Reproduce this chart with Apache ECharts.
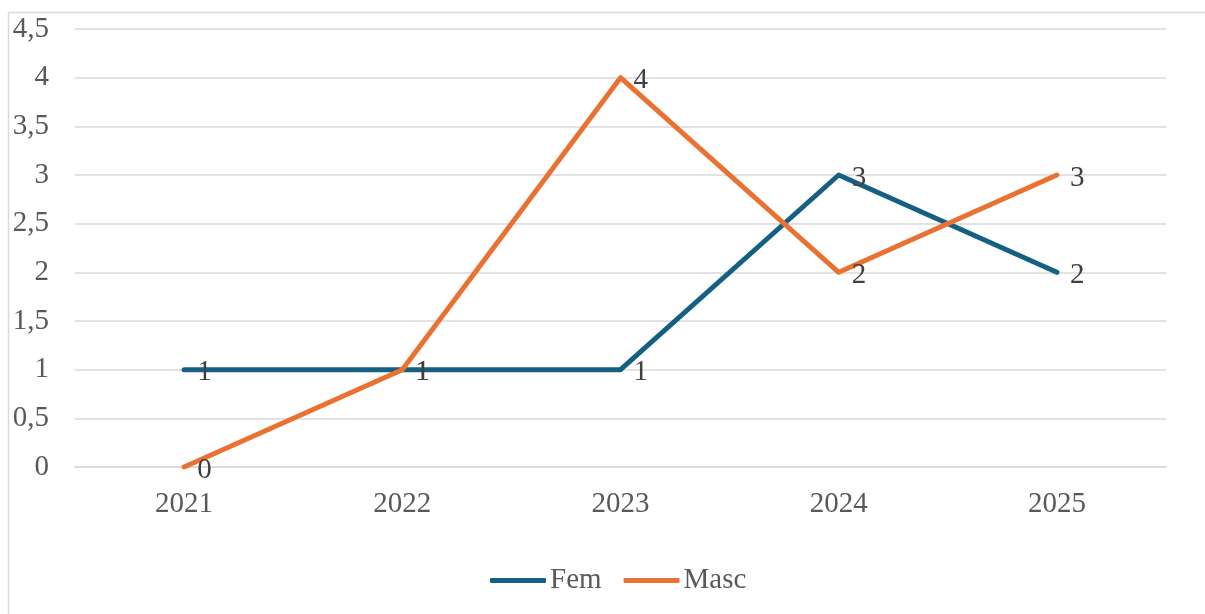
<!DOCTYPE html>
<html>
<head>
<meta charset="utf-8">
<script src="https://cdn.jsdelivr.net/npm/echarts@6/dist/echarts.min.js"></script>
<style>
  html, body { margin: 0; padding: 0; background: #fff; }
  #chart { width: 1205px; height: 614px; }
</style>
</head>
<body>
<div id="chart"></div>
<script>
var years = ['2021', '2022', '2023', '2024', '2025'];
var fem = [1, 1, 1, 3, 2];
var masc = [0, 1, 4, 2, 3];

var font = 'Liberation Serif';
var axisGray = '#595959';
var labelInk = '#404040';
var gridGray = '#d9d9d9';
var fs = 29;

var chart = echarts.init(document.getElementById('chart'), null, { renderer: 'canvas' });

function fmt(v) { return String(v).replace('.', ','); }

function dataLabel() {
  return {
    show: true, position: 'right', distance: 13, offset: [0, 3],
    color: labelInk, fontSize: fs, fontFamily: font,
    formatter: function (p) { return fmt(p.value); }
  };
}

chart.setOption({
  backgroundColor: '#fff',
  animation: false,
  textStyle: { fontFamily: font },
  graphic: [{
    type: 'rect',
    shape: { x: 8.5, y: 12.5, width: 1400, height: 800 },
    style: { fill: 'none', stroke: gridGray, lineWidth: 1.5 },
    silent: true
  }],
  grid: { left: 75, right: 39, top: 29, bottom: 147, containLabel: false },
  legend: {
    data: ['Fem', 'Masc'],
    top: 561,
    left: 485,
    itemWidth: 56,
    itemHeight: 5,
    itemGap: 22,
    icon: 'roundRect',
    textStyle: { color: axisGray, fontSize: fs, fontFamily: font, padding: [0, 0, 0, -1] }
  },
  xAxis: {
    type: 'category',
    data: years,
    boundaryGap: true,
    axisLine: { show: true, lineStyle: { color: gridGray, width: 1.5 } },
    axisTick: { show: false },
    axisLabel: { color: axisGray, fontSize: fs, fontFamily: font, margin: 23 }
  },
  yAxis: {
    type: 'value',
    min: 0,
    max: 4.5,
    interval: 0.5,
    axisLine: { show: false },
    axisTick: { show: false },
    splitLine: { lineStyle: { color: gridGray, width: 1.5 } },
    axisLabel: { color: axisGray, fontSize: fs, fontFamily: font, margin: 26, formatter: fmt }
  },
  series: [
    {
      name: 'Fem',
      type: 'line',
      data: fem,
      symbol: 'circle',
      symbolSize: 0.1,
      lineStyle: { color: '#156082', width: 5, cap: 'round', join: 'round' },
      itemStyle: { color: '#156082' },
      label: dataLabel()
    },
    {
      name: 'Masc',
      type: 'line',
      data: masc,
      symbol: 'circle',
      symbolSize: 0.1,
      lineStyle: { color: '#E97132', width: 5, cap: 'round', join: 'round' },
      itemStyle: { color: '#E97132' },
      label: dataLabel()
    }
  ]
});

window.addEventListener('resize', function () { chart.resize(); });
</script>
</body>
</html>
